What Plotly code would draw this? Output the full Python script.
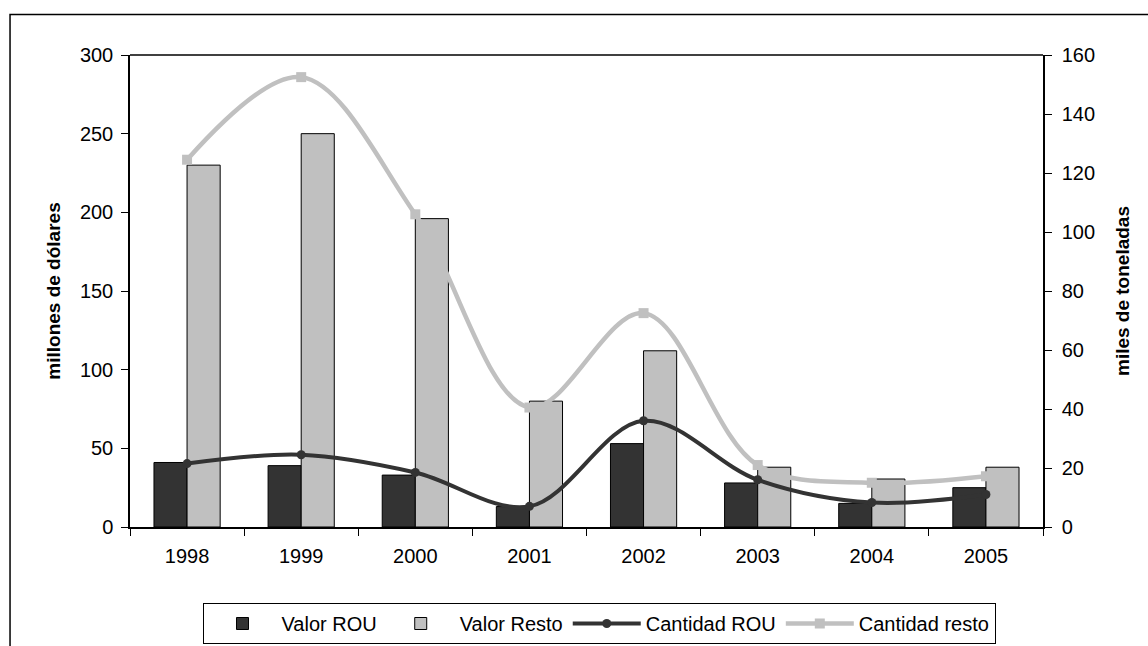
import plotly.graph_objects as go

years = ["1998", "1999", "2000", "2001", "2002", "2003", "2004", "2005"]
valor_rou = [41, 39, 33, 13, 53, 28, 15, 25]
valor_resto = [230, 250, 196, 80, 112, 38, 30.5, 38]
cantidad_rou = [21.5, 24.5, 18.5, 7, 36, 16, 8.3, 11]
cantidad_resto = [124.5, 152.5, 106, 40.5, 72.5, 21, 15, 17.2]

FONT = "Liberation Sans, Arial, sans-serif"

fig = go.Figure()
fig.add_trace(go.Bar(x=years, y=valor_rou, name="Valor ROU",
                     marker=dict(color="#333333", line=dict(color="black", width=1))))
fig.add_trace(go.Bar(x=years, y=valor_resto, name="Valor Resto",
                     marker=dict(color="#C0C0C0", line=dict(color="black", width=1))))
fig.add_trace(go.Scatter(x=years, y=cantidad_rou, name="Cantidad ROU", yaxis="y2",
                         mode="lines+markers", line=dict(color="#333333", width=4, shape="spline", smoothing=1),
                         marker=dict(symbol="circle", size=9, color="#333333")))
fig.add_trace(go.Scatter(x=years, y=cantidad_resto, name="Cantidad resto", yaxis="y2",
                         mode="lines+markers", line=dict(color="#C0C0C0", width=4.5, shape="spline", smoothing=1),
                         marker=dict(symbol="square", size=10, color="#C0C0C0")))

fig.update_layout(
    width=1148, height=646,
    margin=dict(l=130, r=105, t=55, b=119),
    paper_bgcolor="white", plot_bgcolor="white",
    font=dict(family=FONT, size=20, color="black"),
    barmode="group", bargap=0.42, bargroupgap=0,
    showlegend=True,
    legend=dict(orientation="h", x=0.5137, xanchor="center",
                yref="container", y=(646 - 603) / 646, yanchor="top",
                bordercolor="black", borderwidth=1, font=dict(size=20, family=FONT),
                itemwidth=68, tracegroupgap=0),
    xaxis=dict(type="category", showline=True, linecolor="black", linewidth=1.5,
               ticks="outside", tickson="boundaries", ticklen=7, tickcolor="black",
               tickfont=dict(size=20), showgrid=False, mirror=False,
               ticklabelstandoff=10, automargin=False),
    yaxis=dict(range=[0, 300], dtick=50, showline=True, linecolor="black", linewidth=1.5,
               ticks="outside", ticklen=7, tickcolor="black", showgrid=False, zeroline=False,
               tickfont=dict(size=20), ticklabelstandoff=4, automargin=False,
               title=dict(text="<b>millones de dólares</b>", font=dict(size=19), standoff=14)),
    yaxis2=dict(range=[0, 160], dtick=20, overlaying="y", side="right", showline=True,
                linecolor="black", linewidth=1.5, ticks="outside", ticklen=7, tickcolor="black",
                showgrid=False, zeroline=False, tickfont=dict(size=20), ticklabelstandoff=6,
                automargin=False,
                title=dict(text="<b>miles de toneladas</b>", font=dict(size=19), standoff=22)),
)

# plot area top border
fig.add_shape(type="line", xref="paper", yref="paper", x0=0, x1=1, y0=1, y1=1,
              line=dict(color="black", width=1.5))
# outer chart frame
fig.add_shape(type="rect", xref="paper", yref="paper",
              x0=-0.1314, x1=1.12, y0=-0.27, y1=1.086,
              line=dict(color="black", width=1.5), layer="below")

fig.write_html("out.html")
